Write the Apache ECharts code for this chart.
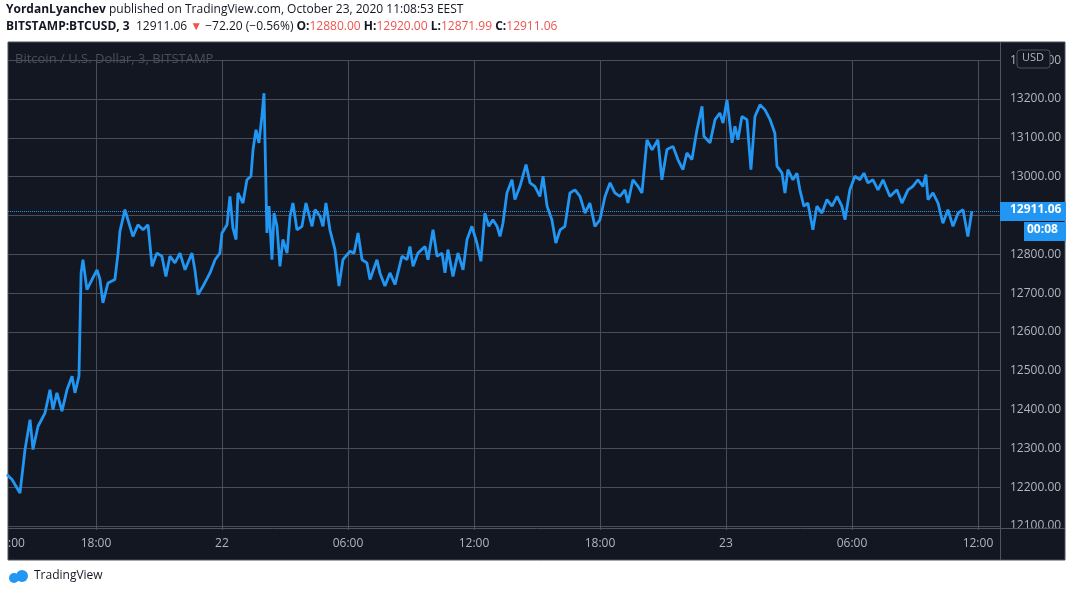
<!DOCTYPE html>
<html lang="en">
<head>
    <meta charset="UTF-8">
    <title>BTCUSD</title>
    <script src="https://cdn.jsdelivr.net/npm/echarts@6/dist/echarts.min.js"></script>
    <style>
        html, body { margin: 0; padding: 0; background: #fff; }
        #main { width: 1073px; height: 596px; }
    </style>
</head>
<body>
<div id="main"></div>
<script>
    // hours from Oct 22 00:00 (EEST)
    var hours = [-10.24, -10.0, -9.62, -9.38, -9.14, -9.0, -8.76, -8.43, -8.19, -8.05, -7.86, -7.62, -7.38, -7.14, -7.0,
        -6.81, -6.71, -6.62, -6.43, -6.19, -5.95, -5.81, -5.67, -5.43, -5.1, -4.95, -4.86, -4.62, -4.48, -4.24, -4.0,
        -3.76, -3.52, -3.33, -3.1, -2.86, -2.67, -2.48, -2.24, -2.0, -1.76, -1.43, -1.29, -1.14, -0.9, -0.57, -0.33, -0.1,
        0, 0.24, 0.38, 0.52, 0.67, 0.76, 1.0, 1.19, 1.38, 1.48, 1.62, 1.76, 1.9, 2.0, 2.14, 2.24, 2.38, 2.48, 2.62, 2.76,
        2.9, 3.1, 3.24, 3.38, 3.57, 3.81, 4.0, 4.29, 4.43, 4.67, 4.81, 4.95, 5.14, 5.38, 5.57,
        5.76, 6.1, 6.29, 6.48, 6.67, 6.9, 7.05, 7.38, 7.52, 7.76, 8.0, 8.24, 8.57, 8.81, 8.95, 9.1, 9.33, 9.67, 9.81,
        10.05, 10.24, 10.48, 10.62, 10.76, 11.0, 11.24, 11.48, 11.67, 11.9, 12.14, 12.33, 12.52, 12.71, 12.9, 13.1,
        13.24, 13.38, 13.57, 13.81, 13.95, 14.19, 14.48, 14.67, 14.9, 15.14, 15.29, 15.48, 15.71, 15.9, 16.1, 16.33,
        16.57, 16.81, 17.05, 17.29, 17.52, 17.76, 18.0, 18.24, 18.48, 18.71, 18.95, 19.19, 19.33, 19.57, 19.81, 20.0,
        20.24, 20.48, 20.76, 20.95,
        21.19, 21.48, 21.71, 21.95, 22.14, 22.38, 22.62, 22.86, 22.95, 23.24, 23.48, 23.71, 23.86, 24.05, 24.29, 24.43,
        24.57, 24.76, 25.0, 25.19, 25.38, 25.62, 25.86, 26.1, 26.33, 26.43, 26.67, 26.81, 26.95, 27.19, 27.38, 27.52,
        27.71, 27.9, 28.14, 28.33, 28.57, 28.81, 29.05, 29.29, 29.52, 29.67, 29.9, 30.14, 30.38, 30.57, 30.76, 31.0,
        31.24, 31.48, 31.81, 32.14, 32.38, 32.67, 32.9, 33.14, 33.38, 33.52, 33.62, 33.86, 34.1, 34.33, 34.57, 34.81,
        35.05, 35.29, 35.52, 35.71];
    var prices = [12233, 12220, 12185, 12297, 12374, 12297, 12357, 12391, 12451, 12400, 12443, 12396, 12451, 12486, 12443,
        12486, 12752, 12786, 12709, 12735, 12760, 12735, 12675, 12726, 12735, 12803, 12859, 12915, 12889, 12846, 12876,
        12863, 12876, 12769, 12803, 12795, 12743, 12795, 12778, 12803, 12760, 12803, 12760, 12696, 12718, 12752, 12786, 12803,
        12855, 12876, 12949, 12868, 12838, 12958, 12932, 12992, 13001, 13070, 13121, 13087, 13155, 13215, 12855, 12924, 12786, 12906, 12872, 12769,
        12838, 12803, 12898, 12932, 12863, 12872, 12932, 12872, 12915, 12898, 12872, 12932, 12863, 12812, 12718,
        12786, 12808, 12803, 12855, 12786, 12778, 12735, 12786, 12752, 12718, 12752, 12722, 12795, 12786, 12820, 12769, 12803, 12820, 12786,
        12863, 12795, 12803, 12752, 12812, 12743, 12803, 12760, 12838, 12872, 12829, 12782, 12906, 12872, 12889, 12872,
        12846, 12880, 12958, 12992, 12941, 12975, 13031, 12984, 12975, 12949, 13001, 12924, 12889, 12829, 12863, 12872,
        12958, 12966, 12949, 12906, 12932, 12872, 12889, 12949, 12984, 12958, 12949, 12966, 12932, 12992, 12975, 12958,
        13095, 13069, 13095, 12992,
        13070, 13078, 13044, 13018, 13061, 13044, 13121, 13181, 13104, 13087, 13147, 13164, 13138, 13198, 13087, 13130,
        13095, 13155, 13147, 13018, 13155, 13185, 13172, 13147, 13112, 13027, 13009, 12958, 13018, 12992, 13009, 12966,
        12924, 12932, 12863, 12924, 12906, 12941, 12924, 12949, 12924, 12889, 12966, 13001, 12992, 13009, 12984, 12992,
        12966, 12992, 12949, 12966, 12932, 12966, 12975, 12992, 12975, 13005, 12941, 12958, 12932, 12880, 12915, 12872,
        12906, 12915, 12846, 12911];
    var timeTicks = [-6, 0, 6, 12, 18, 24, 30, 36];
    var dayLabels = { 0: '22', 24: '23' };
    var lastPrice = 12911.06;

    var data = hours.map(function (h, i) { return [h, prices[i]]; });

    var myChart = echarts.init(document.getElementById('main'));
    var axisText = '#b2b5be';
    var gridColor = '#4a4d57';
    var option = {
        backgroundColor: '#ffffff',
        animation: false,
        graphic: [
            { type: 'rect', shape: { x: 8, y: 42, width: 1057, height: 518 }, style: { fill: '#131722', stroke: '#50535e', lineWidth: 1 }, z: -10 },
            { type: 'line', shape: { x1: 8, y1: 60.5, x2: 1000, y2: 60.5 }, style: { stroke: gridColor }, z: -5 },
            { type: 'line', shape: { x1: 1000.5, y1: 42, x2: 1000.5, y2: 560 }, style: { stroke: '#50535e' }, z: 5 },
            { type: 'line', shape: { x1: 8, y1: 528.5, x2: 1065, y2: 528.5 }, style: { stroke: '#50535e' }, z: 5 },
            { type: 'text', left: 15, top: 53, style: { text: 'Bitcoin / U.S. Dollar, 3, BITSTAMP', fill: '#4a4e59', font: '13px "Open Sans"' }, z: 6 },
            { type: 'text', left: 8, top: 538, style: { text: ':00', fill: axisText, font: '12px "Open Sans"' }, z: 6 },
            { type: 'rect', shape: { x: 1017, y: 50, width: 33, height: 18, r: 3 }, style: { fill: '#131722', stroke: '#50535e' }, z: 7 },
            { type: 'text', left: 1022, top: 52, style: { text: 'USD', fill: axisText, font: '11px "Open Sans"' }, z: 8 },
            { type: 'rect', shape: { x: 1000, y: 202, width: 66, height: 19 }, style: { fill: '#2196f3' }, z: 7 },
            { type: 'text', left: 1010, top: 204, style: { text: '12911.06', fill: '#fff', font: 'bold 12px "Open Sans"' }, z: 8 },
            { type: 'rect', shape: { x: 1024, y: 222, width: 42, height: 19 }, style: { fill: '#2196f3' }, z: 7 },
            { type: 'text', left: 1027, top: 224, style: { text: '00:08', fill: '#fff', font: 'bold 12px "Open Sans"' }, z: 8 },
            {
                type: 'text', left: 6, top: 4,
                style: {
                    text: '{b|YordanLyanchev} published on TradingView.com, October 23, 2020 11:08:53 EEST',
                    font: '12px "Open Sans"', fill: '#131722',
                    rich: { b: { fontWeight: 'bold', fontSize: 12, fontFamily: 'Open Sans', fill: '#131722' } }
                }
            },
            {
                type: 'text', left: 6, top: 21,
                style: {
                    text: '{b|BITSTAMP:BTCUSD, 3}  12911.06 {r|▼} −72.20 (−0.56%) {b|O:}{r|12880.00} {b|H:}{r|12920.00} {b|L:}{r|12871.99} {b|C:}{r|12911.06}',
                    font: '12px "Open Sans"', fill: '#131722',
                    rich: {
                        b: { fontWeight: 'bold', fontSize: 12, fontFamily: 'Open Sans', fill: '#131722' },
                        r: { fontSize: 12, fontFamily: 'Open Sans', fill: '#ef5350' }
                    }
                }
            },
            { type: 'circle', shape: { cx: 14, cy: 578, r: 5 }, style: { fill: '#2196f3' } },
            { type: 'circle', shape: { cx: 22, cy: 576, r: 6 }, style: { fill: '#2196f3' } },
            { type: 'text', left: 34, top: 570, style: { text: 'TradingView', fill: '#131722', font: '12px "Open Sans"' } }
        ],
        grid: { left: 8, right: 73, top: 60.2, bottom: 70, containLabel: false },
        xAxis: {
            type: 'value',
            min: -10.19,
            max: 37.05,
            axisLine: { show: false },
            axisTick: { show: true, customValues: timeTicks, length: 4, lineStyle: { color: '#50535e' } },
            axisLabel: {
                customValues: timeTicks,
                color: axisText, fontSize: 12, fontFamily: 'Open Sans', margin: 12,
                formatter: function (v) {
                    if (dayLabels[v] !== undefined) return dayLabels[v];
                    var hh = ((v % 24) + 24) % 24;
                    return (hh < 10 ? '0' : '') + hh + ':00';
                }
            },
            splitLine: { show: true, lineStyle: { color: gridColor, width: 1 } }
        },
        yAxis: {
            type: 'value',
            position: 'right',
            min: 12100,
            max: 13300,
            interval: 100,
            axisLine: { show: false },
            axisTick: { show: true, length: 4, lineStyle: { color: '#50535e' } },
            axisLabel: {
                color: axisText, fontSize: 12, fontFamily: 'Open Sans', margin: 10,
                formatter: function (v) { return v.toFixed(2); }
            },
            splitLine: { show: true, lineStyle: { color: gridColor, width: 1 } }
        },
        series: [{
            type: 'line',
            data: data,
            showSymbol: false,
            lineStyle: { color: '#2196f3', width: 2.8 },
            markLine: {
                symbol: 'none',
                silent: true,
                label: { show: false },
                lineStyle: { color: '#2196f3', type: 'dotted', width: 1 },
                data: [{ yAxis: lastPrice }]
            }
        }]
    };
    myChart.setOption(option);
</script>
</body>
</html>
